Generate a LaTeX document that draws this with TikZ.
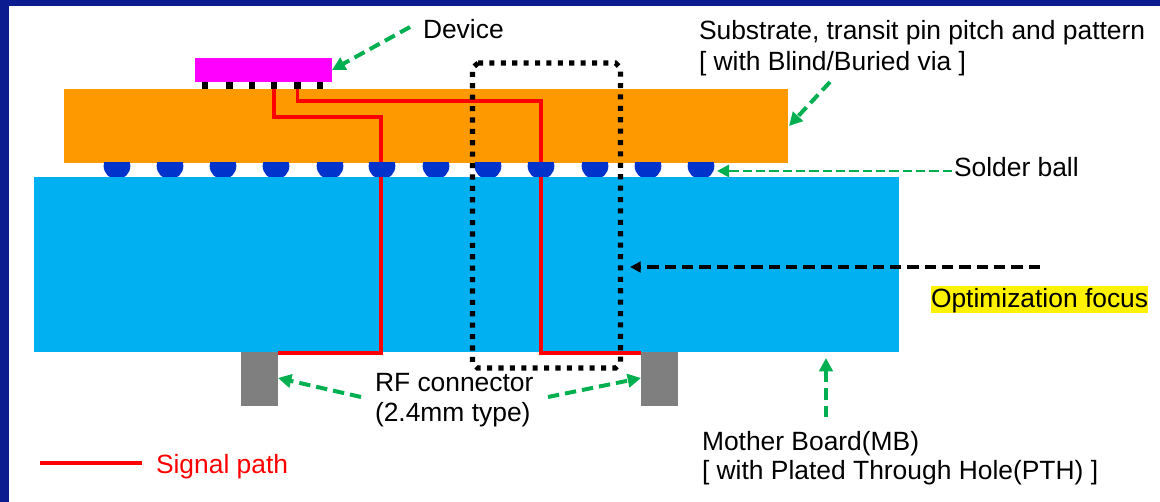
\documentclass[tikz,border=0pt]{standalone}
\usepackage{fontspec}
\setmainfont{Liberation Sans}
\usetikzlibrary{arrows.meta}
\definecolor{framecol}{HTML}{0A1C8F}
\definecolor{chipcol}{HTML}{FF00FF}
\definecolor{subcol}{HTML}{FF9900}
\definecolor{mbcol}{HTML}{00B0F0}
\definecolor{ballcol}{HTML}{0033CC}
\definecolor{arrowgreen}{HTML}{00B050}
\definecolor{conncol}{HTML}{7F7F7F}
\tikzset{
  x=0.75pt,y=-0.75pt,
  block/.style={rectangle,draw=none,inner sep=0pt,outer sep=0pt},
  lbl/.style={inner sep=0pt,outer sep=0pt,anchor=base west,font=\fontsize{19.8pt}{24pt}\selectfont},
  signal/.style={draw=red,line width=2.9pt,line join=miter},
  greenarrow/.style={draw=arrowgreen,line width=3pt,dash pattern=on 8.5pt off 4.5pt,-{Triangle[length=10pt,width=10pt,fill=arrowgreen,sharp]}},
  thinarrow/.style={draw=arrowgreen,line width=2.2pt,dash pattern=on 7pt off 3pt,-{Triangle[length=9pt,width=9pt,fill=arrowgreen]}},
  blackarrow/.style={draw=black,line width=2.6pt,dash pattern=on 8.5pt off 4.5pt,-{Triangle[length=8pt,width=8pt,fill=black]}},
  focusline/.style={draw=black,line width=3.8pt,dash pattern=on 3.8pt off 4.75pt},
}
\begin{document}
\begin{tikzpicture}
\useasboundingbox (0,0) rectangle (1160,502);
\fill[framecol] (0,0) rectangle (1160,6);
\fill[framecol] (0,0) rectangle (9,502);
% bodies
\node[block,fill=subcol,minimum width=543pt,minimum height=55.5pt] (sub) at (426,126) {};
\node[block,fill=mbcol,minimum width=648.75pt,minimum height=131.25pt] (mb) at (466.5,264.5) {};
\node[block,fill=chipcol,minimum width=102.75pt,minimum height=18pt] (chip) at (263.5,70) {};
\foreach \i/\px in {1/205,2/229.5,3/252,4/274,5/297.5,6/320}
  \node[block,fill=black,minimum width=5pt,minimum height=5.25pt] (pin\i) at (\px,85.5) {};
\node[block,fill=conncol,minimum width=27.75pt,minimum height=40.5pt] (connL) at (259.5,379) {};
\node[block,fill=conncol,minimum width=27.75pt,minimum height=40.5pt] (connR) at (659.5,379) {};
% signal
\coordinate (a1) at (274,117); \coordinate (a2) at (381,117); \coordinate (a3) at (381,353);
\coordinate (b1) at (297.5,101); \coordinate (b2) at (541,101); \coordinate (b3) at (541,353);
\draw[signal] (pin4.south) -- (a1) -- (a2) -- (a3) -- (connL.north east |- a3);
\draw[signal] (pin5.south) -- (b1) -- (b2) -- (b3) -- (connR.north west |- b3);
% solder balls over the signal, in the gap
\begin{scope}
\clip (95,163) rectangle (725,177);
\foreach \i/\bx in {1/117,2/170,3/223,4/276,5/330,6/382,7/436,8/488,9/541,10/595,11/648,12/701}
  \node[circle,fill=ballcol,inner sep=0pt,outer sep=0pt,minimum size=20pt] (ball\i) at (\bx,166) {};
\end{scope}
% focus frame
\coordinate (f1) at (478,63); \coordinate (f2) at (615.5,63); \coordinate (f3) at (620.5,68);
\coordinate (f4) at (620.5,363); \coordinate (f5) at (615.5,368); \coordinate (f6) at (477.5,368);
\coordinate (f7) at (472.5,363); \coordinate (f8) at (472.5,68);
\draw[focusline] (f1) -- (f2) -- (f3) -- (f4) -- (f5) -- (f6) -- (f7) -- (f8) -- cycle;
% labels
\node[lbl] (device) at (423,39) {Device};
\node[lbl] (subst1) at (699,39.5) {Substrate, transit pin pitch and pattern};
\node[lbl] (subst2) at (699,70.5) {[ with Blind/Buried via ]};
\node[lbl] (solder) at (954,177) {Solder ball};
\fill[yellow] (931,286) rectangle (1148,313);
\node[lbl] (focus) at (931,308) {Optimization focus};
\node[lbl] (rf1) at (375,391.5) {RF connector};
\node[lbl] (rf2) at (375,421) {(2.4mm type)};
\node[lbl] (mb1) at (702,450) {Mother Board(MB)};
\node[lbl] (mb2) at (702,479) {[ with Plated Through Hole(PTH) ]};
\node[lbl,text=red] (sigtext) at (156,473) {Signal path};
% connectors
\coordinate (legA) at (40,463); \coordinate (legB) at (142,463);
\draw[signal] (legA) -- (legB);
\coordinate (d0) at (410,27); \coordinate (d1) at (332,70);
\draw[greenarrow] (d0) -- (d1);
\coordinate (s0) at (830,82); \coordinate (s1) at (789,126);
\draw[greenarrow] (s0) -- (s1);
\coordinate (b0) at (952,171); \coordinate (b4) at (717,171);
\draw[thinarrow] (b0) -- (b4);
\coordinate (l0) at (361,397); \coordinate (l1) at (278,378);
\draw[greenarrow] (l0) -- (l1);
\coordinate (r0) at (548,397); \coordinate (r1) at (641,378);
\draw[greenarrow] (r0) -- (r1);
\coordinate (m0) at (826,417); \coordinate (m1) at (826,358);
\draw[greenarrow] (m0) -- (m1);
\coordinate (k0) at (1040,267); \coordinate (k1) at (630,267);
\draw[blackarrow] (k0) -- (k1);
\end{tikzpicture}
\end{document}
